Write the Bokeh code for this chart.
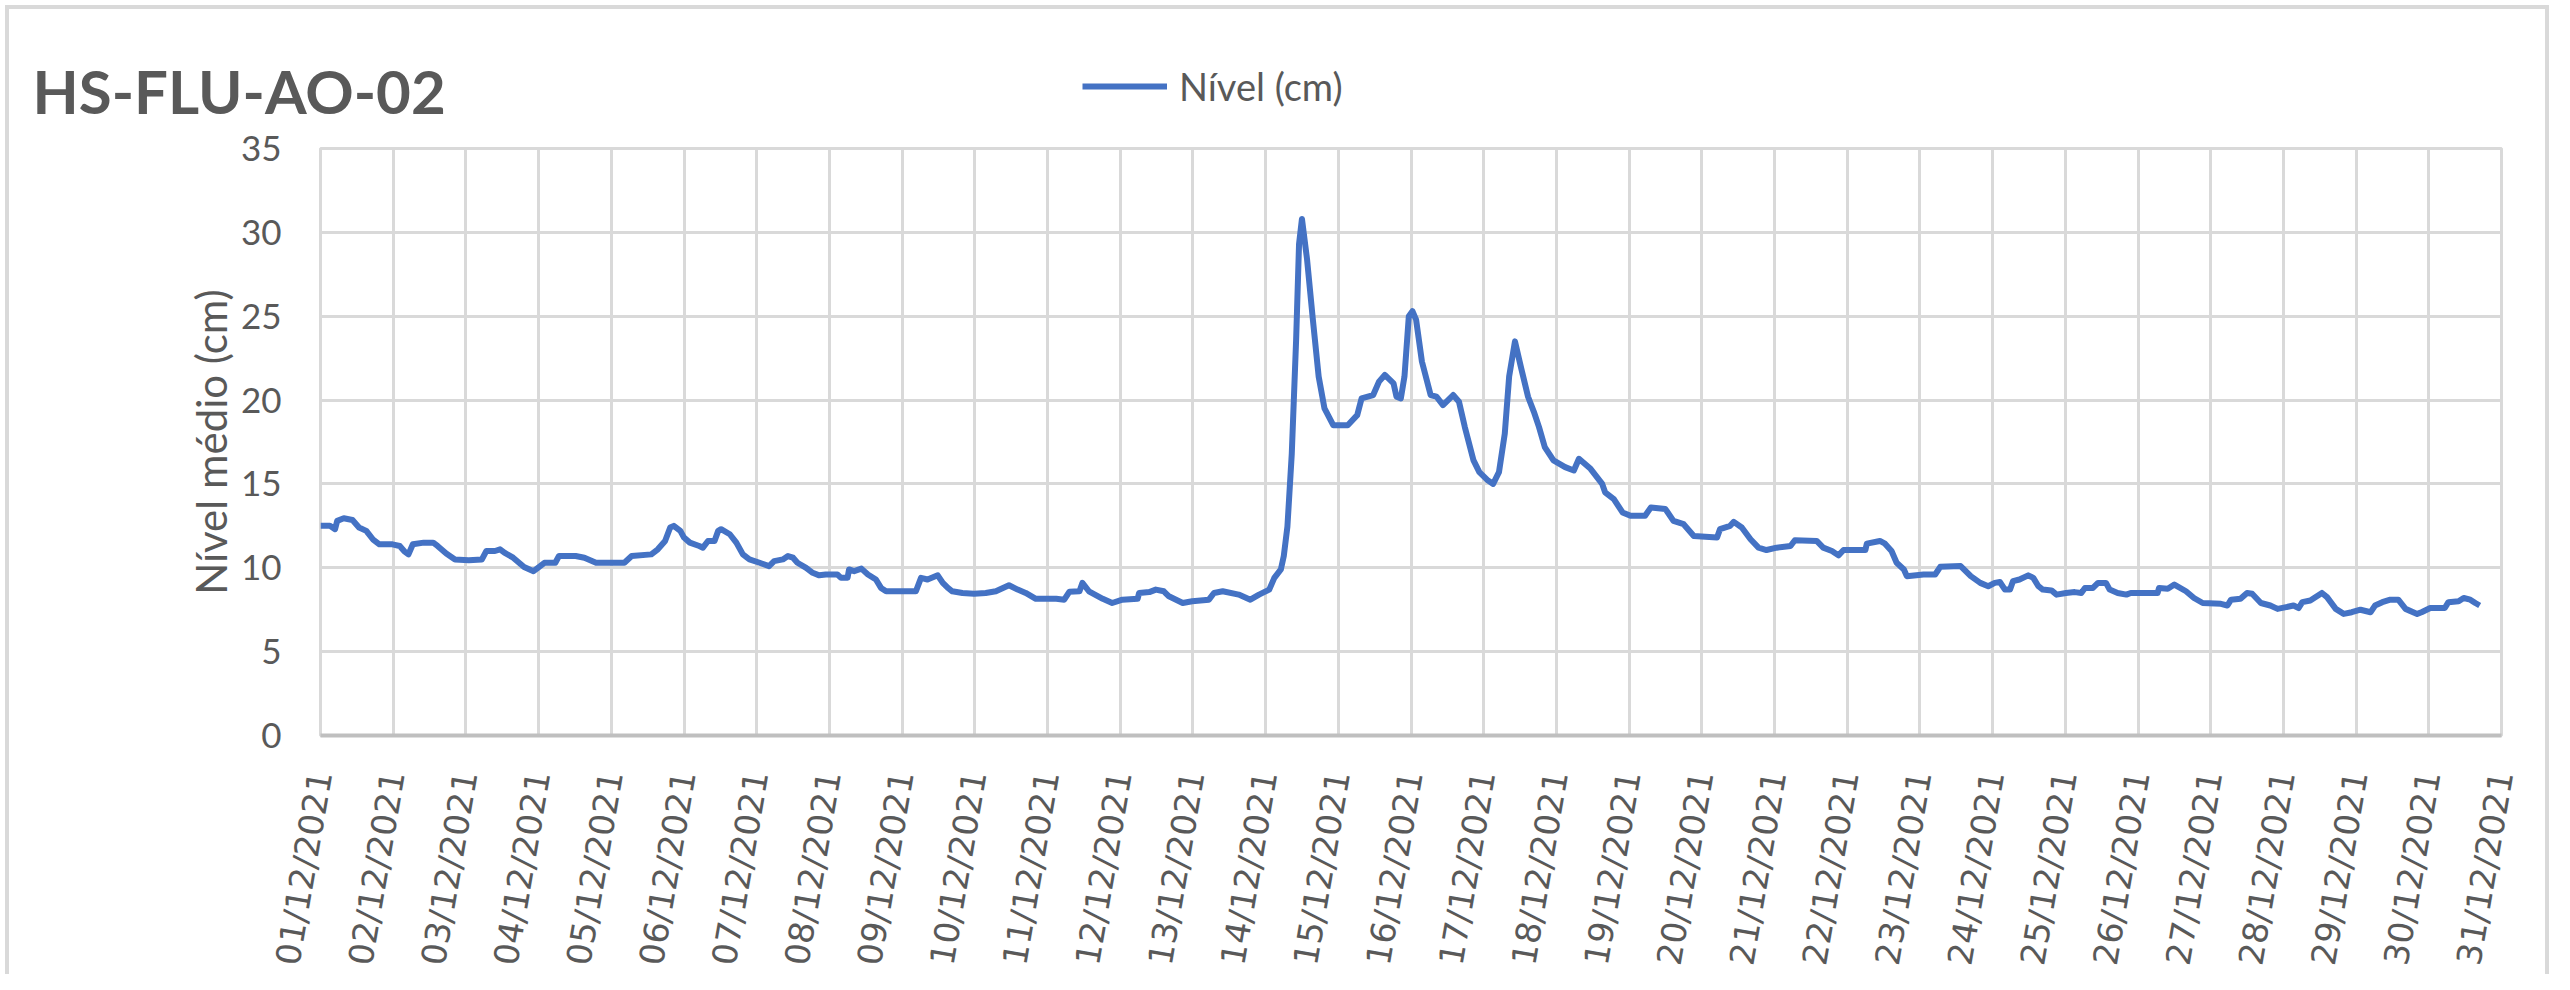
from bokeh.plotting import figure
from bokeh.layouts import column
from bokeh.models import Range1d, FixedTicker, Legend, LegendItem
from bokeh.core.properties import value
from bokeh.embed import file_html
from bokeh.resources import INLINE

# ---- data (days since 01/12/2021 00:00, level in cm) ----
days = [
    0.00, 0.13, 0.20, 0.23, 0.32, 0.44, 0.53, 0.63, 0.72, 0.81, 0.99, 1.09, 1.15, 1.21, 1.27,
    1.42, 1.55, 1.61, 1.73, 1.85, 2.04, 2.22, 2.28, 2.40, 2.47, 2.53, 2.65, 2.80, 2.93, 2.99,
    3.08, 3.23, 3.28, 3.51, 3.63, 3.79, 4.18, 4.28, 4.55, 4.64, 4.74, 4.81, 4.86, 4.95, 5.00,
    5.08, 5.21, 5.26, 5.33, 5.42, 5.47, 5.51, 5.63, 5.72, 5.81, 5.90, 6.04, 6.17, 6.24, 6.36,
    6.43, 6.50, 6.56, 6.68, 6.77, 6.86, 6.95, 7.11, 7.16, 7.25, 7.27, 7.34, 7.44, 7.53, 7.64,
    7.71, 7.78, 8.19, 8.26, 8.35, 8.49, 8.56, 8.63, 8.69, 8.83, 8.99, 9.15, 9.29, 9.47, 9.59,
    9.70, 9.84, 10.12, 10.23, 10.30, 10.44, 10.48, 10.57, 10.76, 10.89, 11.03, 11.24, 11.26,
    11.40, 11.49, 11.60, 11.67, 11.86, 11.99, 12.22, 12.29, 12.41, 12.63, 12.79, 12.91, 13.05,
    13.12, 13.21, 13.25, 13.30, 13.36, 13.42, 13.46, 13.50, 13.57, 13.65, 13.73, 13.81, 13.93,
    14.13, 14.26, 14.32, 14.48, 14.56, 14.64, 14.76, 14.80, 14.86, 14.91, 14.97, 15.02, 15.07,
    15.15, 15.27, 15.35, 15.44, 15.58, 15.66, 15.74, 15.86, 15.94, 16.06, 16.13, 16.21, 16.29,
    16.35, 16.43, 16.51, 16.61, 16.69, 16.76, 16.84, 16.96, 17.12, 17.24, 17.31, 17.47, 17.63,
    17.67, 17.79, 17.91, 18.02, 18.22, 18.30, 18.50, 18.61, 18.75, 18.89, 19.21, 19.25, 19.39,
    19.44, 19.55, 19.67, 19.78, 19.89, 20.03, 20.22, 20.28, 20.58, 20.67, 20.79, 20.88, 20.95,
    21.25, 21.27, 21.45, 21.52, 21.61, 21.68, 21.78, 21.82, 22.05, 22.21, 22.28, 22.56, 22.70,
    22.83, 22.94, 23.03, 23.10, 23.17, 23.24, 23.28, 23.37, 23.49, 23.56, 23.63, 23.69, 23.81,
    23.88, 24.01, 24.13, 24.22, 24.27, 24.38, 24.45, 24.56, 24.61, 24.72, 24.84, 24.90, 25.27,
    25.29, 25.41, 25.50, 25.66, 25.77, 25.89, 26.14, 26.23, 26.28, 26.41, 26.50, 26.57, 26.69,
    26.82, 26.92, 27.14, 27.21, 27.26, 27.37, 27.53, 27.60, 27.72, 27.83, 27.94, 28.06, 28.20,
    28.26, 28.36, 28.47, 28.58, 28.68, 28.84, 28.90, 29.02, 29.22, 29.27, 29.41, 29.48, 29.57,
    29.64, 29.70,
]
nivel_cm = [
    12.5, 12.5, 12.3, 12.8, 12.95, 12.85, 12.4, 12.2, 11.7, 11.4, 11.4, 11.3, 11.0, 10.8, 11.4,
    11.5, 11.5, 11.3, 10.85, 10.5, 10.45, 10.5, 11.0, 11.0, 11.1, 10.9, 10.6, 10.05, 9.8, 10.0,
    10.3, 10.3, 10.7, 10.7, 10.6, 10.3, 10.3, 10.7, 10.8, 11.1, 11.6, 12.4, 12.5, 12.2, 11.8,
    11.5, 11.3, 11.2, 11.6, 11.6, 12.2, 12.3, 12.0, 11.5, 10.8, 10.5, 10.3, 10.1, 10.4, 10.5,
    10.7, 10.6, 10.3, 10.0, 9.7, 9.55, 9.6, 9.6, 9.4, 9.4, 9.9, 9.8, 9.95, 9.6, 9.3,
    8.8, 8.6, 8.6, 9.4, 9.3, 9.55, 9.1, 8.8, 8.6, 8.5, 8.45, 8.5, 8.6, 8.96, 8.7,
    8.5, 8.15, 8.15, 8.1, 8.57, 8.6, 9.1, 8.6, 8.15, 7.9, 8.1, 8.15, 8.5,
    8.55, 8.7, 8.6, 8.3, 7.9, 8.0, 8.1, 8.5, 8.6, 8.4, 8.1, 8.4, 8.7,
    9.4, 9.9, 10.7, 12.45, 16.8, 23.6, 29.3, 30.8, 28.4, 24.8, 21.4, 19.5, 18.5,
    18.5, 19.1, 20.1, 20.3, 21.1, 21.5, 21.0, 20.2, 20.1, 21.4, 25.0, 25.3, 24.8,
    22.3, 20.3, 20.2, 19.7, 20.3, 19.9, 18.4, 16.4, 15.7, 15.2, 15.0, 15.7, 18.0,
    21.4, 23.5, 22.0, 20.2, 19.3, 18.4, 17.2, 16.4, 16.0, 15.8, 16.5, 15.9, 15.0,
    14.5, 14.1, 13.3, 13.1, 13.1, 13.6, 13.5, 12.8, 12.6, 11.9, 11.8, 12.3, 12.5,
    12.74, 12.4, 11.7, 11.2, 11.06, 11.2, 11.3, 11.64, 11.6, 11.2, 11.0, 10.74, 11.06,
    11.06, 11.44, 11.6, 11.44, 11.0, 10.3, 9.9, 9.5, 9.6, 9.6, 10.06, 10.1, 9.5,
    9.1, 8.9, 9.1, 9.15, 8.7, 8.7, 9.2, 9.3, 9.55, 9.4, 8.9, 8.7, 8.65,
    8.4, 8.5, 8.55, 8.5, 8.8, 8.8, 9.1, 9.1, 8.7, 8.5, 8.4, 8.5, 8.5,
    8.8, 8.75, 9.0, 8.6, 8.2, 7.9, 7.85, 7.75, 8.1, 8.15, 8.5, 8.45, 7.9,
    7.75, 7.55, 7.75, 7.6, 7.95, 8.05, 8.5, 8.25, 7.55, 7.25, 7.35, 7.5, 7.35,
    7.75, 7.95, 8.1, 8.1, 7.55, 7.25, 7.35, 7.6, 7.6, 7.95, 8.0, 8.2, 8.1,
    7.9, 7.75,
]
tick_days = list(range(0, 31))
tick_labels = [
    "01/12/2021", "02/12/2021", "03/12/2021", "04/12/2021", "05/12/2021", "06/12/2021",
    "07/12/2021", "08/12/2021", "09/12/2021", "10/12/2021", "11/12/2021", "12/12/2021",
    "13/12/2021", "14/12/2021", "15/12/2021", "16/12/2021", "17/12/2021", "18/12/2021",
    "19/12/2021", "20/12/2021", "21/12/2021", "22/12/2021", "23/12/2021", "24/12/2021",
    "25/12/2021", "26/12/2021", "27/12/2021", "28/12/2021", "29/12/2021", "30/12/2021",
    "31/12/2021",
]
y_ticks = [0, 5, 10, 15, 20, 25, 30, 35]
title_text = "HS-FLU-AO-02"
series_name = "Nível (cm)"
y_label = "Nível médio (cm)"

TXT = "#595959"
GRID = "#d9d9d9"
LINE = "#4472C4"
BORDER_IMG = "linear-gradient(#d9d9d9,#d9d9d9)"

W = 2554
H_TOP = 125
H_MAIN = 849

# ---------- header figure: title + legend ----------
top = figure(
    width=W, height=H_TOP, output_backend="svg", toolbar_location=None,
    x_range=Range1d(0, W), y_range=Range1d(0, H_TOP),
    x_axis_location=None, y_axis_location=None,
    min_border=0,
)
top.grid.visible = False
top.border_fill_color = None
top.background_fill_color = None
top.outline_line_color = None
top.styles = {
    "background-color": "white",
    "background-image": f"{BORDER_IMG}, {BORDER_IMG}, {BORDER_IMG}",
    "background-size": "2544px 4px, 4px 130px, 4px 130px",
    "background-position": "5px 5px, 5px 5px, 2545px 5px",
    "background-repeat": "no-repeat",
}
top.text(
    x=[32], y=[35], text=[title_text],
    text_font=value("Lato"), text_font_size="60px", text_font_style="bold",
    text_color=TXT, text_align="left", text_baseline="alphabetic",
)
# legend key: series style, kept outside the visible header range
key = top.line(x=[-20, -10], y=[-20, -20], line_color=LINE, line_width=6)
legend = Legend(
    items=[LegendItem(label=series_name, renderers=[key])],
    location=(1082, 16), orientation="horizontal",
    padding=0, margin=0, spacing=0,
    glyph_width=85, glyph_height=20, label_standoff=12,
    label_text_font="Lato", label_text_font_size="38px", label_text_color=TXT,
    border_line_color=None, background_fill_color=None,
)
top.add_layout(legend, "center")

# ---------- main chart ----------
p = figure(
    width=W, height=H_MAIN, output_backend="svg", toolbar_location=None,
    x_range=Range1d(0, 30), y_range=Range1d(0, 35),
    min_border_left=320, min_border_right=53, min_border_top=23, min_border_bottom=238,
)
p.border_fill_color = None
p.background_fill_color = "white"
p.outline_line_color = GRID
p.outline_line_width = 3
p.styles = {
    "background-color": "white",
    "background-image": f"{BORDER_IMG}, {BORDER_IMG}",
    "background-size": "4px 849px, 4px 849px",
    "background-position": "5px 0px, 2545px 0px",
    "background-repeat": "no-repeat",
}

for fig in (top, p):
    if "frame_align" in fig.properties():
        fig.frame_align = False

p.xgrid.ticker = FixedTicker(ticks=tick_days)
p.ygrid.ticker = FixedTicker(ticks=y_ticks)
for g in (p.xgrid, p.ygrid):
    g.grid_line_color = GRID
    g.grid_line_width = 3

xa = p.xaxis[0]
xa.ticker = FixedTicker(ticks=tick_days)
xa.major_label_overrides = {d: lab for d, lab in zip(tick_days, tick_labels)}
xa.major_label_orientation = 1.40
xa.major_label_text_font = "DejaVu Sans"
xa.major_label_text_font_size = "34px"
xa.major_label_text_color = TXT
xa.major_label_standoff = 30
xa.axis_line_color = "#bfbfbf"
xa.axis_line_width = 4
xa.major_tick_line_color = None
xa.minor_tick_line_color = None

ya = p.yaxis[0]
ya.ticker = FixedTicker(ticks=y_ticks)
ya.major_label_text_font = "Lato"
ya.major_label_text_font_size = "35px"
ya.major_label_text_color = TXT
ya.major_label_standoff = 33
ya.axis_line_color = None
ya.major_tick_line_color = None
ya.minor_tick_line_color = None
ya.axis_label = y_label
ya.axis_label_text_font = "Lato"
ya.axis_label_text_font_size = "42px"
ya.axis_label_text_font_style = "normal"
ya.axis_label_text_color = TXT
ya.axis_label_standoff = 2

p.line(x=days, y=nivel_cm, line_color=LINE, line_width=6, line_join="round")

layout = column(top, p, spacing=0)
open("out.html", "w").write(file_html(layout, INLINE))
